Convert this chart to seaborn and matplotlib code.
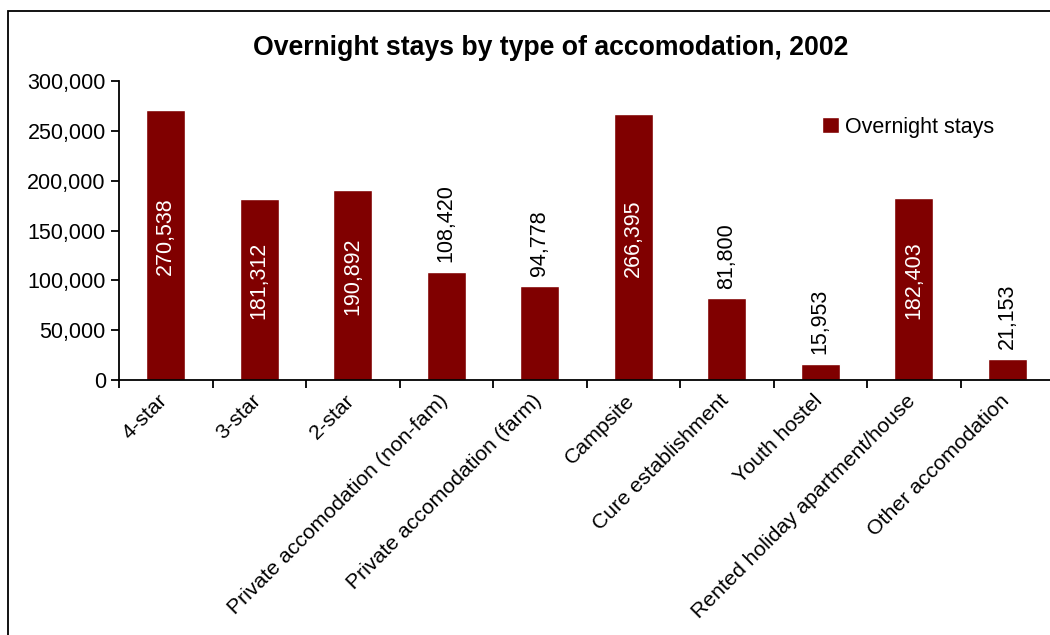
import pandas
import seaborn as sns
import matplotlib
matplotlib.use('Agg')
import matplotlib.pyplot as plt
import matplotlib.transforms as mtransforms
from matplotlib.patches import Rectangle
from matplotlib.ticker import FuncFormatter, FixedLocator

categories = ["4-star", "3-star", "2-star", "Private accomodation (non-fam)",
              "Private accomodation (farm)", "Campsite", "Cure establishment",
              "Youth hostel", "Rented holiday apartment/house", "Other accomodation"]
stays = [270538, 181312, 190892, 108420, 94778, 266395, 81800, 15953, 182403, 21153]
inside = [True, True, True, False, False, True, False, False, True, False]

sns.set_style("white")
plt.rcParams['font.family'] = ['Liberation Sans', 'DejaVu Sans']
plt.rcParams['text.color'] = 'black'
plt.rcParams['xtick.color'] = 'black'
plt.rcParams['ytick.color'] = 'black'

df = pandas.DataFrame({"type": categories, "stays": stays})

fig = plt.figure(figsize=(10.5, 6.35), dpi=100)
ax = fig.add_axes([119 / 1050, 255 / 635, 935 / 1050, 299 / 635])

sns.barplot(data=df, x="type", y="stays", color="#800000", saturation=1,
            width=0.42, label="Overnight stays", ax=ax)

ax.set_xlim(-0.5, len(categories) - 0.5)
ax.set_ylim(0, 300000)
ax.set_yticks(range(0, 300001, 50000))
ax.yaxis.set_major_formatter(FuncFormatter(lambda v, p: f"{int(v):,}"))
ax.set_xlabel("")
ax.set_ylabel("")

# excel style: tick marks between categories, labels under the middle
ax.xaxis.set_minor_locator(FixedLocator([i - 0.5 for i in range(len(categories) + 1)]))
ax.tick_params(axis="x", which="major", length=0, pad=8)
ax.tick_params(axis="x", which="minor", length=6, width=1.3, color="black", direction="out", bottom=True)
ax.tick_params(axis="y", length=6, width=1.3, color="black", direction="out", left=True, labelsize=15.5)
ax.set_xticks(range(len(categories)))
ax.set_xticklabels(categories, rotation=45, ha="right", rotation_mode="anchor", fontsize=15.3)
shift = mtransforms.ScaledTranslation(-8 / 100, 0, fig.dpi_scale_trans)
for lab in ax.get_xticklabels():
    lab.set_transform(lab.get_transform() + shift)

for s in ["top", "right"]:
    ax.spines[s].set_visible(False)
for s in ["left", "bottom"]:
    ax.spines[s].set_color("black")
    ax.spines[s].set_linewidth(1.3)

for i, (v, ins) in enumerate(zip(stays, inside)):
    if ins:
        ax.annotate(f"{v:,}", (i, v / 2), xytext=(0, 6.5), textcoords="offset points",
                    rotation=90, ha="center", va="center", color="white", fontsize=15.5)
    else:
        ax.annotate(f"{v:,}", (i, v), xytext=(0, 7), textcoords="offset points",
                    rotation=90, ha="center", va="bottom", color="black", fontsize=15.5)

fig.text(551 / 1050, 1 - 48 / 635, "Overnight stays by type of accomodation, 2002",
         ha="center", va="center", fontsize=19.2, fontweight="bold")

ax.legend(loc="center left", bbox_to_anchor=(803 / 1050, 1 - 127 / 635),
          bbox_transform=fig.transFigure, frameon=False, fontsize=15.5,
          handlelength=0.75, handleheight=0.75, handletextpad=0.3)

fig.patches.append(Rectangle((8 / 1050, -0.05), 1.2, 1.05 - 11 / 635, transform=fig.transFigure,
                             fill=False, edgecolor="black", linewidth=1.3))

fig.savefig("out.png", dpi=100)
